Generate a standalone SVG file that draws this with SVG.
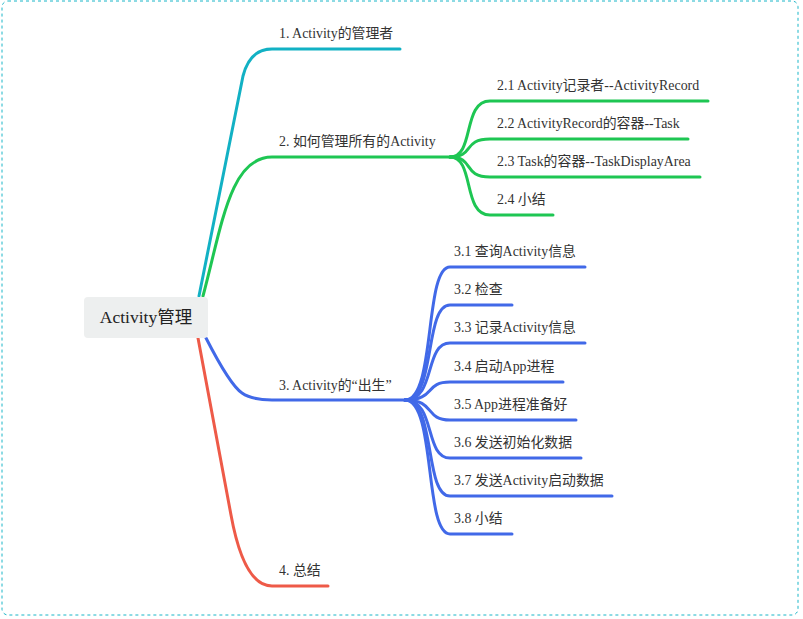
<svg xmlns="http://www.w3.org/2000/svg" width="803" height="619" viewBox="0 0 803 619">
<style>
.t{font-family:"Liberation Serif","Noto Sans CJK SC",serif;font-size:13.9px;fill:#333}
.root{font-family:"Liberation Serif","Noto Sans CJK SC",serif;font-size:17.5px;fill:#222}
.l{fill:none;stroke-width:3;stroke-linecap:round;stroke-linejoin:round}
.c1{stroke:#12b1c4}.c2{stroke:#1ec653}.c3{stroke:#4169e8}.c4{stroke:#ee5a48}
</style>
<rect x="2" y="1" width="796" height="614" rx="6" fill="none" stroke="#1ab6c8" stroke-width="1" stroke-dasharray="3,3"/>
<g id="connectors">
<path class="l c1" d="M199,296 L243,76 Q250,49 272,49 L400,49"/>
<path class="l c2" d="M203,296 C222,225 230,157 272,157 L450,157"/>
<path class="l c3" d="M206,338 Q230,385 242,393 Q252,400 272,400 L405,400"/>
<path class="l c4" d="M198,338 L231,515 Q244,586 272,586 L328,586"/>
<path class="l c2" d="M450,157 C475,157 462,101 490,101 L708,101"/>
<path class="l c2" d="M450,157 C475,157 462,139 490,139 L688,139"/>
<path class="l c2" d="M450,157 C475,157 462,177 490,177 L700,177"/>
<path class="l c2" d="M450,157 C475,157 462,215 490,215 L553,215"/>
<path class="l c3" d="M405,400 C436,400 424,267 450,267 L585,267"/>
<path class="l c3" d="M405,400 C436,400 424,305 450,305 L512,305"/>
<path class="l c3" d="M405,400 C436,400 424,343 450,343 L585,343"/>
<path class="l c3" d="M405,400 C436,400 424,382 450,382 L563,382"/>
<path class="l c3" d="M405,400 C436,400 424,420 450,420 L576,420"/>
<path class="l c3" d="M405,400 C436,400 424,458 450,458 L581,458"/>
<path class="l c3" d="M405,400 C436,400 424,496 450,496 L612,496"/>
<path class="l c3" d="M405,400 C436,400 424,534 450,534 L512,534"/>
</g>
<g id="root">
<rect x="84" y="297" width="124" height="41" rx="4" fill="#edefef"/>
<text class="root" x="146" y="323" text-anchor="middle">Activity管理</text>
</g>
<g id="n1"><text class="t" x="279" y="38">1. Activity的管理者</text></g>
<g id="n2"><text class="t" x="279" y="146">2. 如何管理所有的Activity</text></g>
<g id="n21"><text class="t" x="497" y="90">2.1 Activity记录者--ActivityRecord</text></g>
<g id="n22"><text class="t" x="497" y="128">2.2 ActivityRecord的容器--Task</text></g>
<g id="n23"><text class="t" x="497" y="166">2.3 Task的容器--TaskDisplayArea</text></g>
<g id="n24"><text class="t" x="497" y="204">2.4 小结</text></g>
<g id="n3"><text class="t" x="279" y="390">3. Activity的“出生”</text></g>
<g id="n31"><text class="t" x="454" y="256">3.1 查询Activity信息</text></g>
<g id="n32"><text class="t" x="454" y="294">3.2 检查</text></g>
<g id="n33"><text class="t" x="454" y="332">3.3 记录Activity信息</text></g>
<g id="n34"><text class="t" x="454" y="371">3.4 启动App进程</text></g>
<g id="n35"><text class="t" x="454" y="409">3.5 App进程准备好</text></g>
<g id="n36"><text class="t" x="454" y="447">3.6 发送初始化数据</text></g>
<g id="n37"><text class="t" x="454" y="485">3.7 发送Activity启动数据</text></g>
<g id="n38"><text class="t" x="454" y="523">3.8 小结</text></g>
<g id="n4"><text class="t" x="279" y="575">4. 总结</text></g>
</svg>
